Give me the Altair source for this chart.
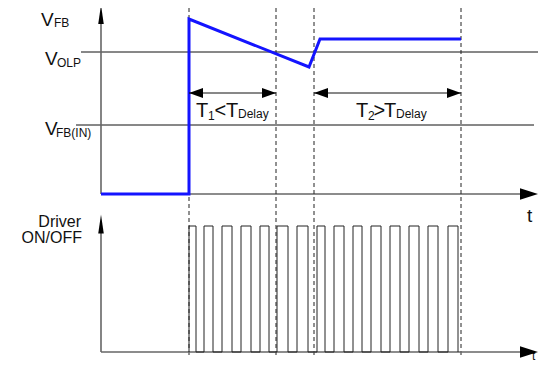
import altair as alt
import pandas as pd

# ---------------- data (time in arbitrary units, levels in arbitrary units) ----------------
vfb_t = [0, 88, 88, 208, 219, 360]
vfb_v = [0.0, 0.0, 1.75, 1.27, 1.55, 1.55]
v_olp = 1.42
v_fb_in = 0.69
olp_span = [-20, 437]
fbin_span = [-25, 433]
dash_t = [88, 175, 213, 360]
dash_v = [1.86, -1.64]
pulse_on = [88, 103, 121, 140, 159, 176, 196, 216, 233, 252, 270, 289, 308, 327, 347]
pulse_off = [95, 112, 131, 150, 168, 187, 207, 224, 243, 261, 280, 299, 318, 337, 357]
t1_span = [88, 175]
t2_span = [213, 360]
span_level = 1.01
axis_end = 430

X_DOM = [-93, 437]
V_DOM = [-1.69, 1.86]
D_DOM = [-0.0873, 2.7302]

FONT = "Liberation Sans"
xs = alt.Scale(domain=X_DOM, nice=False, zero=False)
vs = alt.Scale(domain=V_DOM, nice=False, zero=False)
ds = alt.Scale(domain=D_DOM, nice=False, zero=False)


def enc(ysc, x="t", y="v", **kw):
    return dict(x=alt.X(f"{x}:Q", scale=xs, axis=None),
                y=alt.Y(f"{y}:Q", scale=ysc, axis=None), **kw)


# ---------------- upper panel (V_FB) ----------------
vfb_df = pd.DataFrame({"t": vfb_t, "v": vfb_v, "i": range(len(vfb_t))})
blue = alt.Chart(vfb_df).mark_line(color="#1414ff", strokeWidth=3, strokeJoin="miter").encode(
    **enc(vs), order="i:Q")

hl_df = pd.DataFrame({"t": [olp_span[0], fbin_span[0]], "t2": [olp_span[1], fbin_span[1]],
                      "v": [v_olp, v_fb_in]})
hlines = alt.Chart(hl_df).mark_rule(color="#111", strokeWidth=1).encode(
    **enc(vs), x2="t2:Q")

ax_df = pd.DataFrame({"t": [0, 0], "t2": [0, axis_end], "v": [0, 0], "v2": [1.7, 0]})
axes_top = alt.Chart(ax_df).mark_rule(color="#666", strokeWidth=1.6).encode(
    **enc(vs), x2="t2:Q", y2="v2:Q")

dash_df = pd.DataFrame({"t": dash_t, "v": [dash_v[0]] * 4, "v2": [dash_v[1]] * 4})
dashes = alt.Chart(dash_df).mark_rule(color="#222", strokeWidth=1, strokeDash=[4, 3]).encode(
    **enc(vs), y2="v2:Q")

span_df = pd.DataFrame({"t": [t1_span[0], t2_span[0]], "t2": [t1_span[1], t2_span[1]],
                        "v": [span_level, span_level]})
spans = alt.Chart(span_df).mark_rule(color="#111", strokeWidth=1).encode(**enc(vs), x2="t2:Q")

UP = "M0,-1L0.29,1L-0.29,1Z"
RIGHT = "M1,0L-1,-0.65L-1,0.65Z"
SR = "M1,0L-1,-0.72L-1,0.72Z"
SL = "M-1,0L1,-0.72L1,0.72Z"

up_top = alt.Chart(pd.DataFrame({"t": [0], "v": [1.795]})).mark_point(
    shape=UP, filled=True, color="#000", size=361, opacity=1).encode(**enc(vs))
right_top = alt.Chart(pd.DataFrame({"t": [428], "v": [0]})).mark_point(
    shape=RIGHT, filled=True, color="#000", size=324, opacity=1).encode(**enc(vs))
sl = alt.Chart(pd.DataFrame({"t": [t1_span[0] + 7, t2_span[0] + 7], "v": [span_level] * 2})).mark_point(
    shape=SL, filled=True, color="#000", size=196, opacity=1).encode(**enc(vs))
sr = alt.Chart(pd.DataFrame({"t": [t1_span[1] - 7, t2_span[1] - 7], "v": [span_level] * 2})).mark_point(
    shape=SR, filled=True, color="#000", size=196, opacity=1).encode(**enc(vs))
tiny = alt.Chart(pd.DataFrame({"t": [441.5 - 0.5], "v": [-1.655]})).mark_point(
    shape="triangle-up", filled=True, color="#000", size=18, opacity=1).encode(**enc(vs))

lab_txt = ["V", "FB", "V", "OLP", "V", "FB(IN)",
           "T", "1", "<", "T", "Delay",
           "T", "2", ">", "T", "Delay",
           "t", "t"]
lab_t = [-60, -47, -56, -44, -56, -45,
         95, 107, 113.5, 125, 137,
         255, 267, 272.5, 283, 295,
         426, 431]
lab_v = [1.68, 1.67, 1.29, 1.27, 0.59, 0.57,
         0.77, 0.74, 0.77, 0.77, 0.76,
         0.77, 0.74, 0.77, 0.77, 0.76,
         -0.28, -1.655]
lab_s = [19, 12, 19, 12, 19, 12,
         20, 12, 20, 20, 12,
         20, 12, 20, 20, 12,
         19, 12]
lab_df = pd.DataFrame({"t": lab_t, "v": lab_v, "text": lab_txt, "s": lab_s})
labels = alt.Chart(lab_df).mark_text(align="left", baseline="alphabetic", font=FONT,
                                     color="#111").encode(
    **enc(vs), text="text:N", size=alt.Size("s:Q", scale=None, legend=None))

upper = alt.layer(hlines, axes_top, dashes, blue, spans, up_top, right_top, sl, sr, tiny, labels)

# ---------------- lower panel (driver ON/OFF) ----------------
rows = []
for r, f in zip(pulse_on, pulse_off):
    rows += [(r, 0), (r, 1), (f, 1), (f, 0)]
pw_df = pd.DataFrame({"t": [p[0] for p in rows], "d": [p[1] for p in rows], "i": range(len(rows))})
pulses = alt.Chart(pw_df).mark_line(color="#222", strokeWidth=1, strokeJoin="miter").encode(
    **enc(ds, y="d"), order="i:Q")

dax_df = pd.DataFrame({"t": [0, 0], "t2": [0, axis_end], "d": [0, 0], "d2": [0.95, 0]})
axes_bot = alt.Chart(dax_df).mark_rule(color="#666", strokeWidth=1.6).encode(
    **enc(ds, y="d"), x2="t2:Q", y2="d2:Q")
up_bot = alt.Chart(pd.DataFrame({"t": [0], "d": [1.016]})).mark_point(
    shape=UP, filled=True, color="#000", size=361, opacity=1).encode(**enc(ds, y="d"))
right_bot = alt.Chart(pd.DataFrame({"t": [428], "d": [0]})).mark_point(
    shape=RIGHT, filled=True, color="#000", size=324, opacity=1).encode(**enc(ds, y="d"))

drv_df = pd.DataFrame({"t": [-20, -19], "d": [0.992, 0.865], "text": ["Driver", "ON/OFF"]})
drv_lab = alt.Chart(drv_df).mark_text(align="right", baseline="alphabetic", font=FONT,
                                      fontSize=16, color="#111").encode(
    **enc(ds, y="d"), text="text:N")

lower = alt.layer(axes_bot, pulses, up_bot, right_bot, drv_lab)

chart = alt.layer(upper, lower).resolve_scale(y="independent").properties(
    width=530, height=355, padding=0, background="white",
    autosize=alt.AutoSizeParams(type="none"),
).configure_view(stroke=None)

chart.save("out.html", embed_options={"renderer": "svg", "actions": False})
